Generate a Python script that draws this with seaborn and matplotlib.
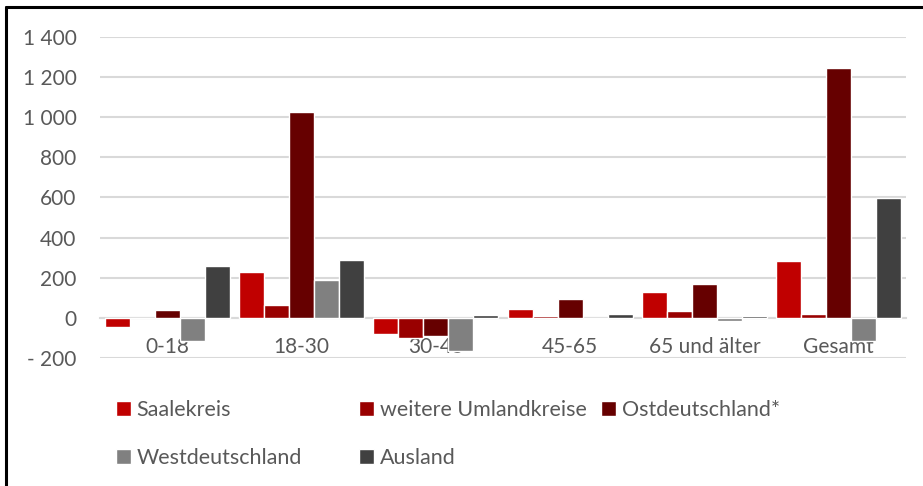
import pandas as pd
import seaborn as sns
import matplotlib.pyplot as plt
from matplotlib.lines import Line2D
from matplotlib.ticker import FuncFormatter

sns.set_style("white")
plt.rcParams["font.family"] = ["Lato", "DejaVu Sans"]

# Data
groups = ["0-18", "18-30", "30-45", "45-65", "65 und älter", "Gesamt"]
series = ["Saalekreis", "weitere Umlandkreise", "Ostdeutschland*", "Westdeutschland", "Ausland"]
saalekreis = [-45, 228, -78, 45, 130, 283]
umland = [0, 62, -100, 10, 35, 17]
ost = [38, 1027, -88, 95, 167, 1247]
west = [-115, 187, -165, -5, -18, -115]
ausland = [260, 287, 12, 18, 10, 597]
colors = ["#C00000", "#990000", "#660000", "#808080", "#404040"]

rows = []
for name, vals in zip(series, [saalekreis, umland, ost, west, ausland]):
    for g, v in zip(groups, vals):
        rows.append({"gruppe": g, "herkunft": name, "wert": v})
df = pd.DataFrame(rows)

txt = "#595959"
fs = 15
fig = plt.figure(figsize=(9.23, 4.86), dpi=100)
ax = fig.add_axes([100 / 923, 1 - 358 / 486, 806 / 923, 321 / 486])

sns.barplot(data=df, x="gruppe", y="wert", hue="herkunft", order=groups,
            hue_order=series, palette=colors, width=0.93, saturation=1,
            errorbar=None, ax=ax, legend=True, zorder=3)

ax.set_ylim(-200, 1400)
ax.set_yticks(range(-200, 1401, 200))
ax.yaxis.set_major_formatter(FuncFormatter(
    lambda v, p: ("- " if v < 0 else "") + f"{abs(int(v)):,}".replace(",", " ")))
ax.grid(axis="y", color="#D9D9D9", linewidth=1.5)
ax.set_axisbelow(True)
for s in ["top", "right", "left"]:
    ax.spines[s].set_visible(False)
ax.spines["bottom"].set_position(("data", 0))
ax.spines["bottom"].set_color("#D9D9D9")
ax.spines["bottom"].set_linewidth(1.5)
ax.spines["bottom"].set_zorder(0.5)
ax.tick_params(axis="x", length=0, pad=14, labelsize=fs, labelcolor=txt)
ax.tick_params(axis="y", length=0, pad=17, labelsize=fs, labelcolor=txt)
ax.set_xlabel("")
ax.set_ylabel("")
ax.set_xlim(-0.5, 5.5)

# Excel-style legend: three equal-width columns, filled row by row
handles, labels = ax.get_legend_handles_labels()
ax.get_legend().remove()
col_x = [116, 359, 601]
for c, x0 in enumerate(col_x):
    idx = [i for i in (c, c + 3) if i < len(handles)]
    fig.legend([handles[i] for i in idx], [labels[i] for i in idx],
               loc="upper left", bbox_to_anchor=(x0 / 923, 1 - 400 / 486),
               frameon=False, fontsize=15.5, labelcolor=txt, borderpad=0,
               borderaxespad=0, handlelength=0.68, handleheight=0.72,
               handletextpad=0.28, labelspacing=1.3)

# frame lines on top and left of the picture
fig.add_artist(Line2D([6 / 923, 1], [1 - 7.5 / 486] * 2, color="black", linewidth=2.2))
fig.add_artist(Line2D([6 / 923] * 2, [0, 1 - 7.5 / 486], color="black", linewidth=2.2))

fig.savefig("out.png", dpi=100)
